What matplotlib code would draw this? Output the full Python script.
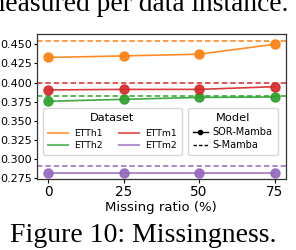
import matplotlib
matplotlib.use("Agg")
import matplotlib.pyplot as plt
from matplotlib.lines import Line2D
import matplotlib.colors as mcolors

missing = [0, 25, 50, 75]
datasets = ["ETTh1", "ETTh2", "ETTm1", "ETTm2"]
sor_mamba = {
    "ETTh1": [0.4327, 0.4348, 0.4370, 0.4500],
    "ETTh2": [0.3754, 0.3780, 0.3805, 0.3810],
    "ETTm1": [0.3903, 0.3910, 0.3910, 0.3945],
    "ETTm2": [0.2821, 0.2821, 0.2821, 0.2821],
}
s_mamba = {"ETTh1": 0.4548, "ETTh2": 0.3825, "ETTm1": 0.3988, "ETTm2": 0.2907}
colors = {"ETTh1": "#ff7f0e", "ETTh2": "#2ca02c", "ETTm1": "#d62728", "ETTm2": "#9467bd"}
yticks = [0.275, 0.300, 0.325, 0.350, 0.375, 0.400, 0.425, 0.450]
xticks = [0, 25, 50, 75]

fig = plt.figure(figsize=(2.96, 2.5), dpi=100)
ax = fig.add_axes([0.124, 0.283, 0.842, 0.581])

for d in datasets:
    c = colors[d]
    light = mcolors.to_rgba(c, 0.55)
    ax.plot(missing, sor_mamba[d], color=c, lw=1.2, alpha=0.9, marker='o', ms=6.5,
            mfc=light, mec=c, mew=1.0, zorder=3)
    ax.axhline(s_mamba[d], color=c, lw=1.1, ls=(0, (3.5, 2)), zorder=2)

ax.set_xticks(xticks)
ax.set_yticks(yticks)
ax.set_yticklabels([f"{v:.3f}" for v in yticks])
ax.tick_params(axis='y', labelsize=8, length=2.4, pad=1, width=0.8)
ax.tick_params(axis='x', labelsize=9.8, length=3, pad=1.5, width=0.8)
ax.set_xlabel("Missing ratio (%)", fontsize=9.5, labelpad=1)
for s in ax.spines.values():
    s.set_linewidth(0.9)
    s.set_color("#333333")
ax.margins(x=0.05, y=0.05)

handles1 = [Line2D([], [], color=colors[d], lw=1.5, alpha=0.7) for d in datasets]
leg1 = ax.legend(handles1, datasets, title="Dataset", ncol=2, loc='lower left',
                 bbox_to_anchor=(0.025, 0.167), borderaxespad=0, fontsize=6.7,
                 title_fontsize=8.2, handlelength=2.15, handletextpad=0.68,
                 columnspacing=1.75, labelspacing=0.35, borderpad=0.5)
leg1._legend_box.sep = leg1._legend_box.sep + 3.3 * 72 / 100
ax.add_artist(leg1)
handles2 = [Line2D([], [], color='black', lw=1.0, marker='o', ms=3),
            Line2D([], [], color='black', lw=1.0, ls=(0, (2.5, 1.5)))]
leg2 = ax.legend(handles2, ["SOR-Mamba", "S-Mamba"], title="Model", loc='lower right',
                 bbox_to_anchor=(0.967, 0.167), borderaxespad=0, fontsize=7.0,
                 title_fontsize=8.2, handlelength=1.5, handletextpad=0.55,
                 labelspacing=0.33, borderpad=0.5)
leg2._legend_box.sep = leg2._legend_box.sep + 1.0 * 72 / 100

fig.text(288 / 296, 1 - 11 / 250, "measured per data instance.", ha='right', va='baseline',
         fontsize=19.8, family='Liberation Serif')
fig.text(143.5 / 296, 1 - 242 / 250, "Figure 10: Missingness.", ha='center', va='baseline',
         fontsize=20, family='Liberation Serif')

fig.savefig("out.png", dpi=100)
